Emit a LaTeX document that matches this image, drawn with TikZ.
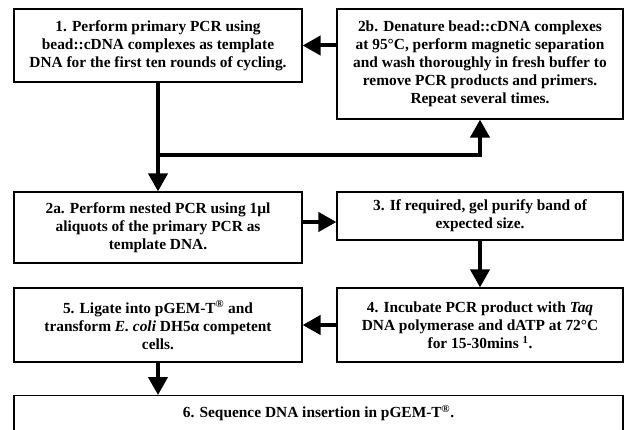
\documentclass[tikz,border=0pt]{standalone}
\usepackage{fontspec}
\setmainfont{Liberation Serif}
\usetikzlibrary{arrows.meta}
\tikzset{
  stepbox/.style={draw=black, line width=1.2pt, rectangle, align=center, inner sep=0pt,
    font=\fontsize{15.4}{18}\selectfont\bfseries},
  flow/.style={line width=4pt, -{Triangle[length=18pt,width=19pt]}},
  plain/.style={line width=4pt}
}
\begin{document}
\begin{tikzpicture}[x=1pt,y=-1pt]
\useasboundingbox (0,0) rectangle (624,430);
\clip (0,0) rectangle (624,430);
\fill[white] (0,0) rectangle (624,430);
\node[stepbox, minimum width=288pt, minimum height=73pt] (b1) at (158,45.5)
  {1. Perform primary PCR using\\bead::cDNA complexes as template\\DNA for the first ten rounds of cycling.};
\node[stepbox, minimum width=286pt, minimum height=110pt] (b2b) at (480,64)
  {2b. Denature bead::cDNA complexes\\at 95\textdegree C, perform magnetic separation\\and wash thoroughly in fresh buffer to\\remove PCR products and primers.\\Repeat several times.};
\node[stepbox, minimum width=288pt, minimum height=71pt] (b2a) at (158,227.5)
  {2a. Perform nested PCR using 1µl\\aliquots of the primary PCR as\\template DNA.};
\node[stepbox, minimum width=286pt, minimum height=48pt] (b3) at (480,216)
  {3. If required, gel purify band of\\expected size.};
\node[stepbox, minimum width=286pt, minimum height=74pt] (b4) at (480,325)
  {4. Incubate PCR product with \textit{Taq}\\DNA polymerase and dATP at 72\textdegree C\\for 15-30mins \textsuperscript{1}.};
\node[stepbox, minimum width=288pt, minimum height=74pt] (b5) at (158,325)
  {5. Ligate into pGEM-T\textsuperscript{\textregistered} and\\transform \textit{E. coli} DH5α competent\\cells.};
\node[stepbox, minimum width=609pt, anchor=north, inner ysep=12pt, text height=10pt, text depth=40pt] (b6) at (318.5,395)
  {6. Sequence DNA insertion in pGEM-T\textsuperscript{\textregistered}.};
\coordinate (j) at (158,155);
\draw[flow] (b2b.west |- b1.east) -- (b1.east);
\draw[flow] (b1.south) -- (b2a.north);
\draw[flow] (j) -| (b2b.south);
\draw[flow] (b2a.east |- 0,222) -- (b3.west |- 0,222);
\draw[flow] (b3.south) -- (b4.north);
\draw[flow] (b4.west) -- (b5.east);
\draw[flow] (b5.south) -- (b5.south |- b6.north);
\end{tikzpicture}
\end{document}
